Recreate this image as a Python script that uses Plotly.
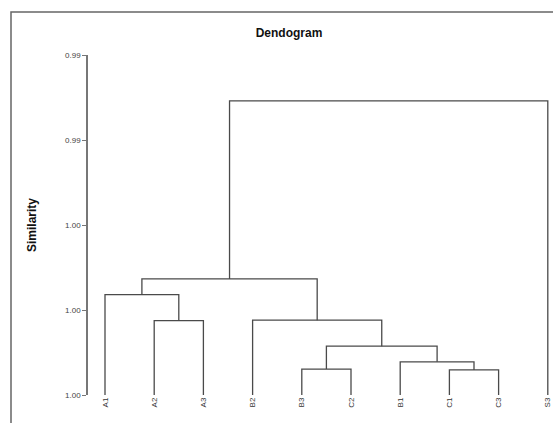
import plotly.graph_objects as go

# ---- data ----
leaves = ["A1", "A2", "A3", "B2", "B3", "C2", "B1", "C1", "C3", "S3"]
# merges: (left member, right member, similarity); clusters are named by index "m<k>"
merge_left = ["A2", "A1", "B3", "C1", "B1", "m2", "B2", "m1", "m7"]
merge_right = ["A3", "m0", "C2", "C3", "m3", "m4", "m5", "m6", "S3"]
merge_sim = [0.99825, 0.99764, 0.99939, 0.99941, 0.99922, 0.99885, 0.99824, 0.99727, 0.99308]
ytick_vals = [0.992, 0.994, 0.996, 0.998, 1.000]

# ---- build dendrogram link segments ----
pos = {name: (float(i), 1.0) for i, name in enumerate(leaves)}
xs, ys = [], []
for k, (l, r, s) in enumerate(zip(merge_left, merge_right, merge_sim)):
    xl, yl = pos[l]
    xr, yr = pos[r]
    xs += [xl, xl, xr, xr, None]
    ys += [yl, s, s, yr, None]
    pos["m%d" % k] = ((xl + xr) / 2.0, s)

W, H = 553, 423
L, R, T, B = 88, 0, 55, 28
plot_w = W - L - R
plot_h = H - T - B
# leaf spacing in pixels and first leaf offset
first_px, step_px = 105 - L, 49.2
x0 = -first_px / step_px
x1 = x0 + plot_w / step_px

fig = go.Figure()
fig.add_trace(go.Scatter(x=xs, y=ys, mode="lines",
                         line=dict(color="#4a4a4a", width=1.3),
                         hoverinfo="skip", showlegend=False))

def px_x(p):
    return (p - L) / plot_w

def px_y(p):
    return (H - B - p) / plot_h

fig.update_layout(
    width=W, height=H,
    margin=dict(l=L, r=R, t=T, b=B),
    paper_bgcolor="white", plot_bgcolor="white",
    font=dict(family="Liberation Sans, Arial, sans-serif", color="#333"),
    title=dict(text="<b>Dendogram</b>", font=dict(size=12, color="#111"),
               x=289 / W, xref="container", xanchor="center",
               y=1 - 33 / H, yref="container", yanchor="middle"),
    xaxis=dict(range=[x0, x1], tickmode="array",
               tickvals=list(range(len(leaves))), ticktext=leaves,
               tickangle=-90, tickfont=dict(size=8, color="#333"),
               showgrid=False, zeroline=False, showline=False, ticks=""),
    yaxis=dict(range=[1.0, 0.992], tickmode="array", tickvals=ytick_vals,
               tickformat=".2f", tickfont=dict(size=8, color="#444"),
               showgrid=False, zeroline=False, showline=True,
               linecolor="#777", linewidth=1.5, ticks="outside",
               ticklen=4, tickcolor="#777", tickwidth=1.2),
    annotations=[dict(text="<b>Similarity</b>", textangle=-90,
                      x=px_x(32), y=0.5, xref="paper", yref="paper",
                      showarrow=False, font=dict(size=12, color="#111"),
                      xanchor="center", yanchor="middle")],
    shapes=[dict(type="path", xref="paper", yref="paper",
                 path="M %f,%f L %f,%f L %f,%f" % (px_x(11), px_y(440),
                                                   px_x(11), px_y(12),
                                                   px_x(570), px_y(12)),
                 line=dict(color="#666", width=1.5))],
)

fig.write_html("out.html", config={"displayModeBar": False},
               post_script="document.body.style.margin='0';document.body.style.overflow='hidden';")
